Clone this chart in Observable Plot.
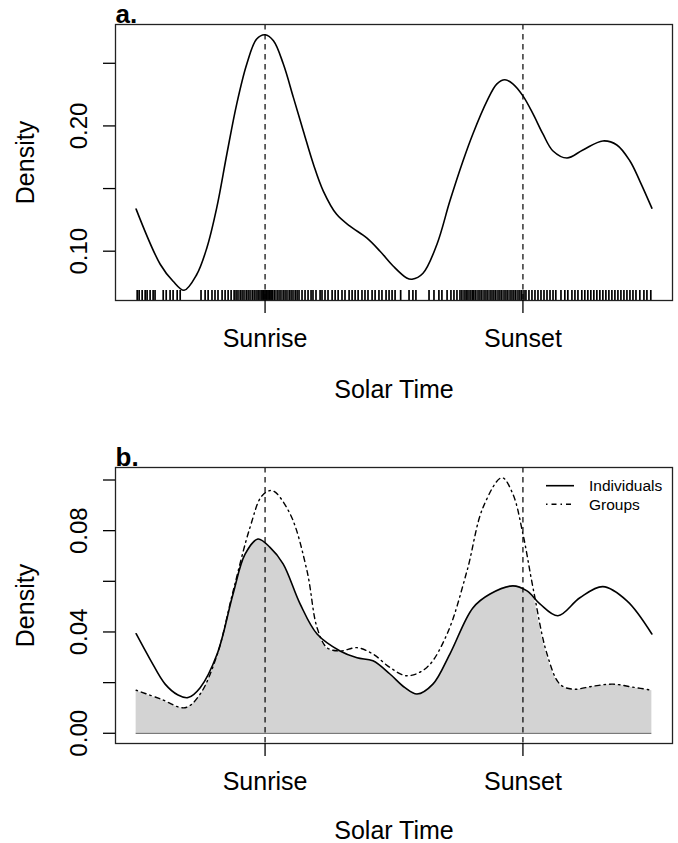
<!DOCTYPE html>
<html><head><meta charset="utf-8">
<script src="https://cdn.jsdelivr.net/npm/d3@7"></script>
<script src="https://cdn.jsdelivr.net/npm/@observablehq/plot@0.6"></script>
<style>
body{margin:0;background:#fff;}
#wrap{position:relative;width:678px;height:843px;font-family:"Liberation Sans",Arial,Helvetica,sans-serif;}
#wrap svg{display:block;}
#legend{position:absolute;left:540px;top:474px;}
</style></head><body><div id="wrap"></div>
<script>
// ---- data (solar time in hours; sunrise = 6, sunset = 18) ----
const xTicks = [6, 18];
const xTickLabels = ["Sunrise", "Sunset"];
const yTicksA = [0.10, 0.15, 0.20, 0.25];
const yLabelsA = [0.10, 0.20];
const yTicksB = [0.00, 0.02, 0.04, 0.06, 0.08, 0.10];
const yLabelsB = [0.00, 0.04, 0.08];

const hoursA = [0, 1.12, 1.72, 2.23, 2.82, 3.29, 3.75, 4.22, 4.68, 5.15, 5.61, 6.00, 6.39, 6.85, 7.32, 7.78, 8.25, 8.71, 9.33, 9.95, 10.73, 11.35, 11.97, 12.59, 12.84, 13.35, 14.00, 14.60, 15.21, 15.67, 16.33, 16.79, 17.16, 17.53, 18.00, 18.47, 18.93, 19.40, 20.05, 20.79, 21.72, 22.37, 22.98, 23.44, 24];
const densityA = [0.1336, 0.0896, 0.076, 0.0688, 0.0814, 0.1026, 0.1346, 0.1774, 0.2174, 0.2494, 0.2694, 0.2728, 0.268, 0.2494, 0.2226, 0.196, 0.1694, 0.148, 0.1294, 0.12, 0.1106, 0.10, 0.088, 0.0786, 0.0776, 0.0824, 0.1056, 0.14, 0.172, 0.1936, 0.22, 0.2336, 0.2368, 0.2336, 0.224, 0.2096, 0.1936, 0.18, 0.1744, 0.1808, 0.188, 0.1848, 0.172, 0.156, 0.1344];

const rugHours = [0.05, 0.14, 0.28, 0.42, 0.51, 0.65, 0.79, 0.88,
  1.26, 1.40, 1.58, 1.72, 1.91, 2.05,
  3.02, 3.21, 3.35, 3.53, 3.67, 3.81, 4.00, 4.14, 4.28, 4.42, 4.56, 4.65, 4.74, 4.84, 4.93, 5.02, 5.12, 5.21, 5.30, 5.40, 5.49, 5.58, 5.67, 5.72, 5.81,
  5.86, 5.91, 5.95, 6.00, 6.05, 6.09, 6.14, 6.19, 6.23, 6.28, 6.33, 6.42, 6.46, 6.56, 6.65, 6.74, 6.84, 6.93, 7.02, 7.12, 7.21, 7.30, 7.40, 7.49, 7.58,
  7.72, 7.86, 8.00, 8.14, 8.23, 8.37, 8.56, 8.65, 8.79, 8.93, 9.12, 9.26, 9.40, 9.58, 9.72, 9.91, 10.05, 10.19, 10.33, 10.51, 10.65, 10.79, 10.98, 11.12, 11.30, 11.44, 11.63, 11.77, 11.91, 12.05,
  12.31, 12.70, 12.88, 13.02, 13.63, 13.86, 14.09, 14.23, 14.47, 14.65, 14.79, 14.93, 15.07,
  15.16, 15.26, 15.35, 15.40, 15.49, 15.58, 15.67, 15.72, 15.81, 15.91, 16.00, 16.09, 16.19, 16.28, 16.37, 16.47, 16.56, 16.65, 16.74, 16.84, 16.93, 17.02, 17.12, 17.21, 17.30, 17.40, 17.49, 17.58, 17.67, 17.77, 17.86, 17.95, 18.05, 18.14,
  18.28, 18.42, 18.56, 18.70, 18.84, 18.98, 19.12, 19.26, 19.40, 19.53,
  19.77, 19.95, 20.09, 20.28, 20.42, 20.56, 20.74, 20.88, 21.02, 21.16, 21.30, 21.44, 21.58, 21.72, 21.86, 22.00, 22.14, 22.28, 22.42, 22.56, 22.70, 22.84, 22.98, 23.12, 23.26, 23.44, 23.63, 23.77, 23.95];

const hoursInd = [0.00, 0.65, 1.35, 1.95, 2.42, 2.98, 3.77, 4.51, 5.07, 5.67, 6.23, 6.84, 7.63, 8.42, 9.49, 10.28, 11.02, 11.81, 12.51, 13.07, 13.81, 14.60, 15.67, 16.47, 17.53, 18.19, 18.79, 19.63, 20.65, 21.72, 22.84, 24.00];
const densityInd = [0.0393, 0.0292, 0.0194, 0.0151, 0.0141, 0.018, 0.0313, 0.055, 0.0707, 0.0767, 0.0734, 0.0669, 0.0511, 0.0392, 0.0325, 0.0298, 0.0286, 0.0234, 0.018, 0.0155, 0.0194, 0.0313, 0.0495, 0.055, 0.0582, 0.0562, 0.0511, 0.0464, 0.0535, 0.0579, 0.0523, 0.0392];

const hoursGrp = [0, 1.12, 2.28, 2.98, 3.77, 4.51, 5.30, 5.86, 6.33, 7.16, 7.95, 8.42, 8.88, 9.49, 10.28, 11.02, 11.81, 12.60, 13.53, 14.47, 15.40, 16.14, 17.02, 17.53, 18.00, 18.47, 19.12, 19.72, 20.33, 21.26, 22.19, 23.12, 24];
const densityGrp = [0.017, 0.0136, 0.0101, 0.0155, 0.031, 0.056, 0.0813, 0.0938, 0.0958, 0.0867, 0.0642, 0.0417, 0.0338, 0.0325, 0.0338, 0.0313, 0.026, 0.0227, 0.026, 0.0392, 0.0642, 0.0891, 0.1009, 0.0945, 0.0787, 0.0574, 0.0313, 0.0194, 0.0174, 0.0186, 0.0194, 0.0182, 0.017];

const seriesNames = ["Individuals", "Groups"];

// ---- tables ----
const curveA = hoursA.map((h, i) => ({hour: h, density: densityA[i]}));
const ind = hoursInd.map((h, i) => ({hour: h, density: densityInd[i]}));
const grp = hoursGrp.map((h, i) => ({hour: h, density: densityGrp[i]}));

// R-style 4% padding of the data range
function pad(ext) { const d = (ext[1] - ext[0]) * 0.04; return [ext[0] - d, ext[1] + d]; }
const xDomain = pad([0, 24]);
const yDomainA = pad(d3.extent(densityA));
const yDomainB = pad([0, d3.max([...densityInd, ...densityGrp])]);

const FONT = '"Liberation Sans", Arial, Helvetica, sans-serif';
const tickLab = d => xTickLabels[xTicks.indexOf(d)];
const common = {
  width: 678, marginLeft: 115, marginRight: 6,
  style: {fontFamily: FONT, background: "white", color: "black", overflow: "visible"}
};
const DASH = "5.5,4.5";
const DOTDASH = "1.5,4,5,4";

function axes(yTicks, yLabels, letter, titleDy) {
  return [
    Plot.frame({stroke: "#222", strokeWidth: 1.3}),
    Plot.axisX({ticks: xTicks, tickFormat: tickLab, tickSize: 13, tickPadding: 16, fontSize: 25, label: null, strokeWidth: 1.3}),
    Plot.axisY({ticks: yTicks, tickFormat: () => "", tickSize: 12, label: null, strokeWidth: 1.3}),
    Plot.axisY({ticks: yLabels, tickFormat: d3.format(".2f"), tickSize: 0, tickPadding: 29, rotate: -90, textAnchor: "middle", lineAnchor: "bottom", fontSize: 24, label: null}),
    Plot.text(["Solar Time"], {text: d => d, frameAnchor: "bottom", lineAnchor: "bottom", dy: titleDy, fontSize: 25}),
    Plot.text(["Density"], {text: d => d, frameAnchor: "left", rotate: -90, textAnchor: "middle", lineAnchor: "bottom", dx: -82, fontSize: 25}),
    Plot.text([letter], {text: d => d, frameAnchor: "top-left", textAnchor: "start", lineAnchor: "bottom", dy: -2, fontSize: 26, fontWeight: "bold"})
  ];
}

const plotA = Plot.plot({
  ...common, height: 420, marginTop: 24, marginBottom: 120,
  x: {domain: xDomain}, y: {domain: yDomainA},
  marks: [
    Plot.ruleX(rugHours, {x: d => d, insetTop: 266, stroke: "black", strokeWidth: 1.7}),
    Plot.ruleX(xTicks, {x: d => d, stroke: "black", strokeDasharray: DASH, strokeWidth: 1.2}),
    Plot.line(curveA, {x: "hour", y: "density", curve: "catmull-rom", stroke: "black", strokeWidth: 1.6}),
    ...axes(yTicksA, yLabelsA, "a.", 97)
  ]
});

const plotB = Plot.plot({
  ...common, height: 423, marginTop: 47, marginBottom: 100,
  x: {domain: xDomain}, y: {domain: yDomainB},
  marks: [
    // shaded region = area under the lower of the two curves:
    // grey under Individuals, then everything above Groups painted back to white
    Plot.areaY(ind, {x: "hour", y1: 0, y2: "density", curve: "catmull-rom", fill: "#d3d3d3"}),
    Plot.areaY(grp, {x: "hour", y1: "density", y2: yDomainB[1], curve: "catmull-rom", fill: "white", stroke: "white", strokeWidth: 1.2}),
    Plot.ruleY([0], {x1: 0, x2: 24, stroke: "#7a7a7a", strokeWidth: 1.2}),
    Plot.ruleX(xTicks, {x: d => d, stroke: "black", strokeDasharray: DASH, strokeWidth: 1.2}),
    Plot.line(grp, {x: "hour", y: "density", curve: "catmull-rom", stroke: "black", strokeWidth: 1.4, strokeDasharray: DOTDASH}),
    Plot.line(ind, {x: "hour", y: "density", curve: "catmull-rom", stroke: "black", strokeWidth: 1.6}),
    ...axes(yTicksB, yLabelsB, "b.", 95.5)
  ]
});

const wrap = document.getElementById("wrap");
wrap.appendChild(plotA);
wrap.appendChild(plotB);

// legend for panel b
const leg = d3.select(wrap).append("svg").attr("id", "legend").attr("width", 130).attr("height", 42)
  .style("font-family", FONT);
const rows = leg.selectAll("g").data(seriesNames).join("g")
  .attr("transform", (d, i) => `translate(0,${11.7 + i * 18.5})`);
rows.append("line").attr("x1", 6).attr("x2", 34).attr("y1", 0).attr("y2", 0)
  .attr("stroke", "black").attr("stroke-width", (d, i) => i ? 1.4 : 1.6)
  .attr("stroke-dasharray", (d, i) => i ? DOTDASH : null);
rows.append("text").attr("x", 49).attr("y", 0).attr("dy", "0.36em")
  .attr("font-size", 15.5).text(d => d);
</script></body></html>
